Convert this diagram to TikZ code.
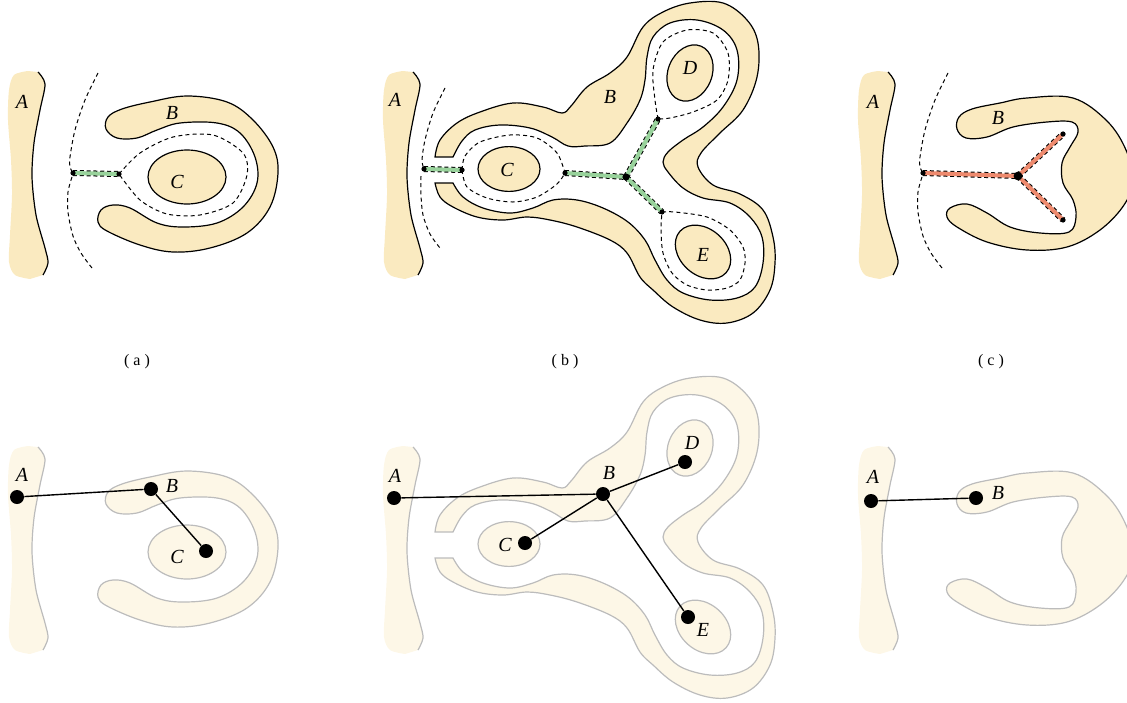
\documentclass[tikz,border=0pt]{standalone}
\usepackage{fontspec}
\setmainfont{Liberation Serif}
\definecolor{ZoneFill}{RGB}{250,234,192}
\definecolor{ZonePale}{RGB}{253,247,231}
\definecolor{ZoneGray}{RGB}{188,188,188}
\definecolor{MedGreen}{RGB}{152,210,155}
\definecolor{MedRed}{RGB}{238,138,110}

\begin{document}
\begin{tikzpicture}[x=0.5pt,y=-0.5pt,
    rim/.style={line width=0.6pt},
    voronoi/.style={line width=0.5pt, dash pattern=on 2pt off 1.6pt},
    medial/.style={line width=2pt, draw=#1,
      preaction={draw=black, line width=3pt, dash pattern=on 2pt off 1.4pt}},
    knot/.style={circle, fill=black, inner sep=0pt, minimum size=2.6pt},
    hub/.style={circle, fill=black, inner sep=0pt, minimum size=4.4pt},
    site/.style={circle, fill=black, inner sep=0pt, minimum size=7pt},
    link/.style={line width=0.7pt},
    lbl/.style={font=\fontsize{10}{12}\selectfont\itshape, inner sep=0pt},
    subcap/.style={font=\fontsize{8}{10}\selectfont, inner sep=0pt}]
  \useasboundingbox (0,0) rectangle (1127,702);
  \clip (0,0) rectangle (1127,702);

  % the regions, drawn once per row
  \foreach \dy/\fc/\lc in {0/ZoneFill/black, 375/ZonePale/ZoneGray}{
    \begin{scope}[shift={(0,\dy)}]
      % obstacle A, outlined only on its right side
      \foreach \dx in {0,375,850}{
        \fill[\fc, shift={(\dx,0)}]
          plot[smooth] coordinates {(38,72) (45,84) (40,110) (34,143) (32,177) (36,215) (45,248) (48,263) (43,275)}
          -- plot[smooth] coordinates {(30,279) (15,275) (9,262) (10,235) (12,195) (11,160) (8,120) (9,90) (14,75) (28,71)}
          -- cycle;
        \draw[\lc, rim, shift={(\dx,0)}]
          plot[smooth] coordinates {(38,72) (45,84) (40,110) (34,143) (32,177) (36,215) (45,248) (48,263) (43,275)};
      }
      % (a)
      \filldraw[fill=\fc, draw=\lc, rim] plot[smooth cycle, tension=0.6] coordinates {
        (106,129) (108,117) (122,109) (150,102) (187,96) (227,102) (253,120) (273,147) (278,173)
        (270,207) (247,233) (210,248) (173,252) (140,245) (107,231) (98,222) (101,210) (113,205)
        (130,208) (157,223) (183,227) (217,223) (243,207) (257,183) (255,157) (240,133) (217,123)
        (180,123) (157,130) (137,138) (117,138)};
      \filldraw[fill=\fc, draw=\lc, rim] (187,177) ellipse [x radius=19.5pt, y radius=13.5pt];
      % (b)
      \filldraw[fill=\fc, draw=\lc, rim]
        plot[smooth, tension=0.6] coordinates {
          (435,157) (440,140) (457,123) (480,112) (513,103) (543,107) (562,113) (571,106) (587,87)
          (610,73) (627,57) (643,27) (663,12) (690,3) (723,3) (747,20) (758,43) (757,77) (743,110)
          (720,133) (701,153) (698,167) (713,185) (740,194) (763,210) (773,237) (775,263) (770,290)
          (753,313) (727,323) (700,320) (673,307) (653,290) (640,277) (627,253) (610,240) (577,227)
          (550,220) (527,217) (503,220) (477,217) (453,207) (440,197) (435,183)}
        -- plot[smooth, tension=0.6] coordinates {
          (453,183) (463,197) (483,208) (510,213) (533,208) (553,200) (577,200) (603,208) (628,222)
          (645,240) (655,260) (667,280) (683,293) (710,300) (737,298) (755,287) (763,263) (762,237)
          (750,217) (730,203) (703,198) (683,188) (668,172) (663,162) (668,152) (683,140) (703,127)
          (723,107) (737,80) (737,50) (723,30) (697,20) (670,23) (653,37) (647,57) (645,80) (640,100)
          (627,123) (610,143) (585,146) (568,146) (552,137) (530,128) (500,125) (475,130) (462,141)
          (453,157)}
        -- cycle;
      \filldraw[fill=\fc, draw=\lc, rim] (509,169) ellipse [x radius=15.5pt, y radius=11.2pt];
      \filldraw[fill=\fc, draw=\lc, rim, rotate around={68:(690,73)}]
        (690,73) ellipse [x radius=14.5pt, y radius=11pt];
      \filldraw[fill=\fc, draw=\lc, rim, rotate around={-42:(703,252)}]
        (703,252) ellipse [x radius=15.5pt, y radius=11.5pt];
      % (c)
      \filldraw[fill=\fc, draw=\lc, rim] plot[smooth cycle, tension=0.6] coordinates {
        (957,129) (959,117) (972,109) (1000,103) (1027,98) (1073,98) (1107,121) (1126,150)
        (1133,180) (1124,205) (1100,230) (1067,247) (1027,250) (987,242) (957,227) (947,217)
        (950,208) (967,204) (987,213) (1010,227) (1040,233) (1069,232) (1076,217) (1073,200)
        (1063,183) (1062,163) (1070,147) (1078,132) (1072,122) (1047,122) (1013,127) (987,137)
        (966,138)};
    \end{scope}
  }

  % bisectors, top row
  \draw[voronoi] plot[smooth] coordinates {(98,73) (85,100) (75,130) (70,157) (70,167) (73,173)};
  \draw[voronoi] plot[smooth] coordinates {(72,177) (68,192) (68,212) (73,236) (81,253) (92,268)};
  \draw[voronoi] plot[smooth] coordinates {(119,174) (140,153) (173,137) (213,135) (243,153) (247,175)
    (233,203) (200,215) (167,214) (140,200) (119,174)};

  \draw[voronoi] plot[smooth] coordinates {(445,88) (433,113) (425,140) (422,160) (424,169)};
  \draw[voronoi] plot[smooth] coordinates {(421,176) (421,195) (423,215) (430,234) (440,248)};
  \draw[voronoi] plot[smooth] coordinates {(462,170) (465,156) (480,142) (510,135) (537,138) (557,153) (565,173)};
  \draw[voronoi] plot[smooth] coordinates {(462,170) (467,187) (487,198) (513,202) (537,197) (557,184) (565,173)};
  \draw[voronoi] plot[smooth] coordinates {(658,119) (655,100) (653,70) (663,42) (687,30) (713,33)
    (728,53) (728,80) (717,100) (693,112) (670,118) (658,119)};
  \draw[voronoi] plot[smooth] coordinates {(662,212) (675,212) (707,217) (730,230) (743,247) (745,263)
    (740,280) (727,288) (707,290) (687,285) (672,273) (663,253) (661,230) (662,212)};

  \draw[voronoi] plot[smooth] coordinates {(948,73) (935,100) (925,130) (920,157) (920,167) (923,173)};
  \draw[voronoi] plot[smooth] coordinates {(922,177) (918,192) (918,212) (923,236) (931,253) (942,268)};

  % medial axis pieces
  \coordinate (ga1) at (73,173);
  \coordinate (ga2) at (119,174);
  \coordinate (gb1) at (424,169);
  \coordinate (gb2) at (462,170);
  \coordinate (gb3) at (565,173);
  \coordinate (gb4) at (626,177);
  \coordinate (gb5) at (658,119);
  \coordinate (gb6) at (662,212);
  \coordinate (rc1) at (923,173);
  \coordinate (rc2) at (1018,176);
  \coordinate (rc3) at (1063,134);
  \coordinate (rc4) at (1063,220);

  \draw[medial=MedGreen] (ga1) -- (ga2);
  \draw[medial=MedGreen] (gb1) -- (gb2);
  \draw[medial=MedGreen] (gb3) -- (gb4);
  \draw[medial=MedGreen] (gb4) -- (gb5);
  \draw[medial=MedGreen] (gb4) -- (gb6);
  \draw[medial=MedRed] (rc1) -- (rc2);
  \draw[medial=MedRed] (rc2) -- (rc3);
  \draw[medial=MedRed] (rc2) -- (rc4);

  \foreach \k in {ga1,ga2,gb1,gb2,gb3,gb5,gb6,rc1,rc3,rc4}
    \node[knot] at (\k) {};
  \node[hub, minimum size=3.6pt] at (gb4) {};
  \node[hub] at (rc2) {};

  % labels, top row
  \node[lbl] (ta1) at (22,102) {A};
  \node[lbl] (tb1) at (172,113) {B};
  \node[lbl] (tc1) at (177,182) {C};
  \node[lbl] (ta2) at (395,100) {A};
  \node[lbl] (tb2) at (610,97) {B};
  \node[lbl] (tc2) at (507,170) {C};
  \node[lbl] (td2) at (690,68) {D};
  \node[lbl] (te2) at (703,255) {E};
  \node[lbl] (ta3) at (873,102) {A};
  \node[lbl] (tb3) at (998,118) {B};

  \node[subcap] (capa) at (137,362) {( a )};
  \node[subcap] (capb) at (565,362) {( b )};
  \node[subcap] (capc) at (991,362) {( c )};

  % connectivity graphs, bottom row
  \node[site] (sa1) at (17,497) {};
  \node[site] (sb1) at (151,489) {};
  \node[site] (sc1) at (206,551) {};
  \node[site] (sa2) at (394,498) {};
  \node[site] (sb2) at (603,494) {};
  \node[site] (sc2) at (525,543) {};
  \node[site] (sd2) at (685,462) {};
  \node[site] (se2) at (688,617) {};
  \node[site] (sa3) at (871,501) {};
  \node[site] (sb3) at (976,498) {};

  \draw[link] (sa1) -- (sb1);
  \draw[link] (sb1) -- (sc1);
  \draw[link] (sa2) -- (sb2);
  \draw[link] (sb2) -- (sc2);
  \draw[link] (sb2) -- (sd2);
  \draw[link] (sb2) -- (se2);
  \draw[link] (sa3) -- (sb3);

  \node[lbl] at (22,475) {A};
  \node[lbl] at (172,486) {B};
  \node[lbl] at (177,557) {C};
  \node[lbl] at (395,476) {A};
  \node[lbl] at (609,473) {B};
  \node[lbl] at (505,545) {C};
  \node[lbl] at (692,443) {D};
  \node[lbl] at (703,630) {E};
  \node[lbl] at (873,477) {A};
  \node[lbl] at (998,493) {B};
\end{tikzpicture}
\end{document}
